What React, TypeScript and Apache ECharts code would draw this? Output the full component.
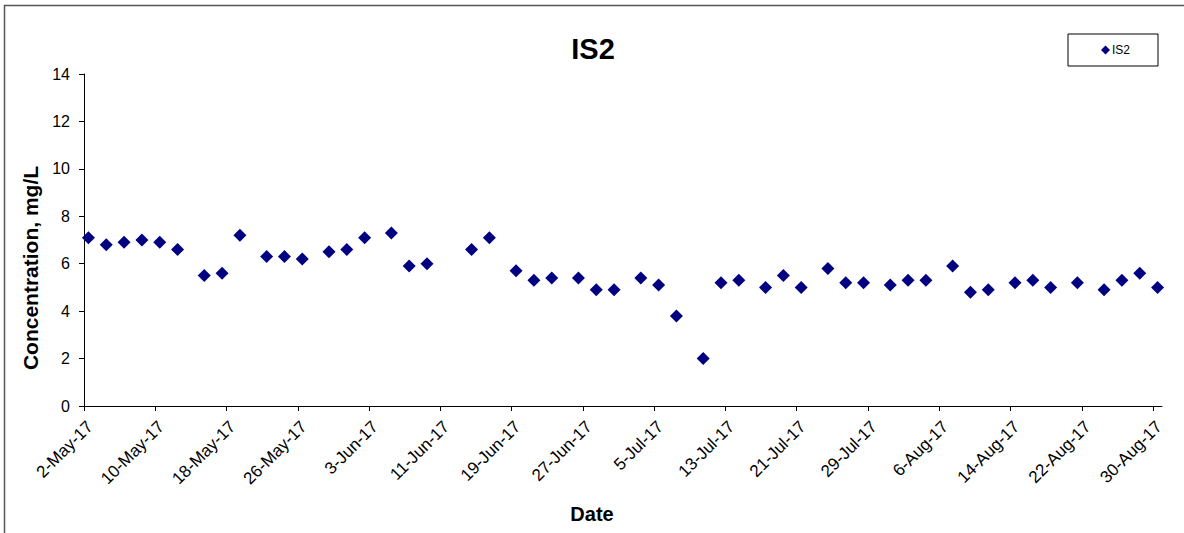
import React, { useEffect, useRef } from 'react';
import * as echarts from 'echarts';

const AXIS_START = '2017-05-02';
const AXIS_END = '2017-08-31';

const tickDates = [
  '2017-05-02', '2017-05-10', '2017-05-18', '2017-05-26', '2017-06-03', '2017-06-11',
  '2017-06-19', '2017-06-27', '2017-07-05', '2017-07-13', '2017-07-21', '2017-07-29',
  '2017-08-06', '2017-08-14', '2017-08-22', '2017-08-30',
];

const sampleDates = [
  '2017-05-02', '2017-05-04', '2017-05-06', '2017-05-08', '2017-05-10', '2017-05-12',
  '2017-05-15', '2017-05-17', '2017-05-19', '2017-05-22', '2017-05-24', '2017-05-26',
  '2017-05-29', '2017-05-31', '2017-06-02', '2017-06-05', '2017-06-07', '2017-06-09',
  '2017-06-14', '2017-06-16', '2017-06-19', '2017-06-21', '2017-06-23', '2017-06-26',
  '2017-06-28', '2017-06-30', '2017-07-03', '2017-07-05', '2017-07-07', '2017-07-10',
  '2017-07-12', '2017-07-14', '2017-07-17', '2017-07-19', '2017-07-21', '2017-07-24',
  '2017-07-26', '2017-07-28', '2017-07-31', '2017-08-02', '2017-08-04', '2017-08-07',
  '2017-08-09', '2017-08-11', '2017-08-14', '2017-08-16', '2017-08-18', '2017-08-21',
  '2017-08-24', '2017-08-26', '2017-08-28', '2017-08-30',
];

const is2Values = [
  7.1, 6.8, 6.9, 7.0, 6.9, 6.6,
  5.5, 5.6, 7.2, 6.3, 6.3, 6.2,
  6.5, 6.6, 7.1, 7.3, 5.9, 6.0,
  6.6, 7.1, 5.7, 5.3, 5.4, 5.4,
  4.9, 4.9, 5.4, 5.1, 3.8, 2.0,
  5.2, 5.3, 5.0, 5.5, 5.0, 5.8,
  5.2, 5.2, 5.1, 5.3, 5.3, 5.9,
  4.8, 4.9, 5.2, 5.3, 5.0, 5.2,
  4.9, 5.3, 5.6, 5.0,
];

const Y_MIN = 0;
const Y_MAX = 14;
const Y_STEP = 2;

const MONTHS = ['Jan', 'Feb', 'Mar', 'Apr', 'May', 'Jun', 'Jul', 'Aug', 'Sep', 'Oct', 'Nov', 'Dec'];
const DAY_MS = 86400000;

function toUTC(iso: string): number {
  const [y, m, d] = iso.split('-').map(Number);
  return Date.UTC(y, m - 1, d);
}
const startMs = toUTC(AXIS_START);
function dayIndex(iso: string): number {
  return Math.round((toUTC(iso) - startMs) / DAY_MS);
}
function formatDay(v: number): string {
  const dt = new Date(startMs + Math.round(v) * DAY_MS);
  return `${dt.getUTCDate()}-${MONTHS[dt.getUTCMonth()]}-${String(dt.getUTCFullYear()).slice(2)}`;
}

const FONT = '"Liberation Sans", Arial, sans-serif';

export default function App() {
  const ref = useRef<HTMLDivElement>(null);

  useEffect(() => {
    if (!ref.current) return;
    const chart = echarts.init(ref.current, null, { renderer: 'svg' });
    const tickValues = tickDates.map(dayIndex);
    // Points sit in the middle of their day slot (Excel "between tick marks" date axis)
    const points = sampleDates.map((d, i) => [dayIndex(d) + 0.5, is2Values[i]]);

    chart.setOption({
      animation: false,
      backgroundColor: '#ffffff',
      textStyle: { fontFamily: FONT, color: '#000' },
      title: {
        text: 'IS2',
        left: 588,
        top: 29,
        textAlign: 'center',
        textStyle: { fontFamily: FONT, fontSize: 29, fontWeight: 'bold', color: '#000' },
      },
      legend: {
        left: 1068,
        top: 34,
        orient: 'horizontal',
        padding: [10, 28, 10, 33],
        borderColor: '#000',
        borderWidth: 1,
        backgroundColor: '#fff',
        itemWidth: 9,
        itemHeight: 9,
        itemGap: 0,
        icon: 'diamond',
        itemStyle: { opacity: 1 },
        textStyle: { fontFamily: FONT, fontSize: 12, color: '#000', padding: [0, 0, 0, -3] },
        data: ['IS2'],
      },
      grid: { left: 84, right: 22, top: 74, bottom: 127, containLabel: false },
      xAxis: {
        type: 'value',
        min: dayIndex(AXIS_START),
        max: dayIndex(AXIS_END),
        interval: 8,
        name: 'Date',
        nameLocation: 'middle',
        nameGap: 98,
        nameTextStyle: {
          fontFamily: FONT, fontSize: 20, fontWeight: 'bold', color: '#000',
          padding: [0, 62, 0, 0],
        },
        axisLine: { show: true, onZero: false, lineStyle: { color: '#000', width: 1 } },
        axisTick: { show: true, inside: false, length: 5, lineStyle: { color: '#000' }, customValues: tickValues },
        axisLabel: {
          rotate: 45,
          margin: 12,
          verticalAlign: 'top',
          fontFamily: FONT,
          fontSize: 17,
          color: '#000',
          customValues: tickValues,
          formatter: (v: number) => formatDay(v),
        },
        splitLine: { show: false },
      },
      yAxis: {
        type: 'value',
        min: Y_MIN,
        max: Y_MAX,
        interval: Y_STEP,
        name: 'Concentration, mg/L',
        nameLocation: 'middle',
        nameRotate: 90,
        nameGap: 42,
        nameTextStyle: {
          fontFamily: FONT, fontSize: 21, fontWeight: 'bold', color: '#000',
          padding: [0, 56, 0, 0],
        },
        axisLine: { show: true, lineStyle: { color: '#000', width: 1 } },
        axisTick: { show: true, inside: false, length: 5, lineStyle: { color: '#000' } },
        axisLabel: { margin: 14, fontFamily: FONT, fontSize: 16, color: '#000' },
        splitLine: { show: false },
      },
      series: [
        {
          name: 'IS2',
          type: 'scatter',
          symbol: 'diamond',
          symbolSize: 13,
          itemStyle: { color: '#000080', opacity: 1 },
          data: points,
        },
      ],
      graphic: [
        {
          type: 'rect',
          shape: { x: 4.5, y: 5.5, width: 1220, height: 600 },
          style: { fill: 'none', stroke: '#555', lineWidth: 1.5 },
          silent: true,
          z: -1,
        },
      ],
    });
    return () => chart.dispose();
  }, []);

  return (
    <div
      ref={ref}
      style={{ position: 'absolute', left: 0, top: 0, width: 1184, height: 533 }}
    />
  );
}
